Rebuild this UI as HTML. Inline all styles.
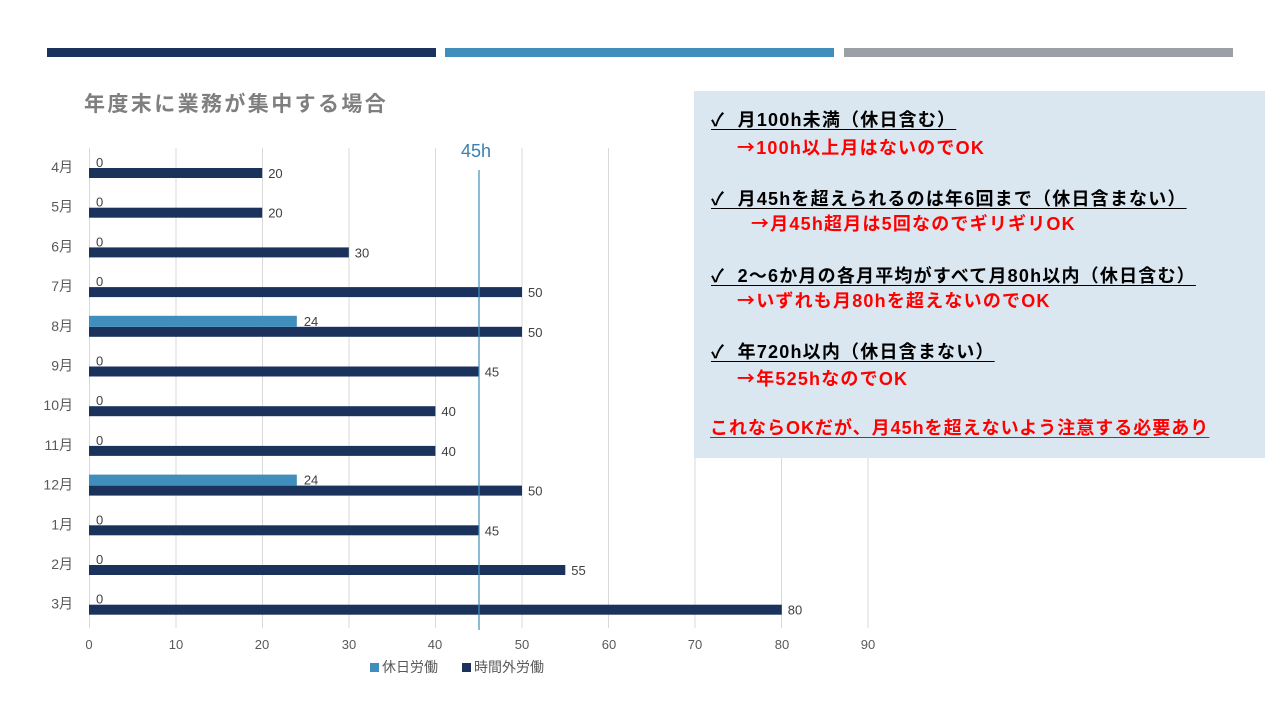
<!DOCTYPE html>
<html><head><meta charset="utf-8"><style>
body{margin:0;width:1280px;height:720px;background:#fff;position:relative;overflow:hidden;font-family:"Liberation Sans","Noto Sans CJK JP",sans-serif}
.a{position:absolute}
.box{left:694px;top:91px;width:571px;height:367px;background:#dae6f0}
.t{position:absolute;font-weight:bold;font-size:18px;white-space:nowrap;line-height:20px;letter-spacing:1.2px}
.k{color:#000;text-decoration:underline;text-underline-offset:3px}
.r{color:#f00}
.ar{font-family:"Noto Sans CJK JP",sans-serif}
</style></head><body>
<div class="a" style="left:47px;top:48px;width:389px;height:9px;background:#1b335c"></div>
<div class="a" style="left:445px;top:48px;width:389px;height:9px;background:#3f8ebc"></div>
<div class="a" style="left:844px;top:48px;width:389px;height:9px;background:#9aa0a6"></div>
<div class="a" style="left:84px;top:88px;font-size:21px;letter-spacing:2.4px;font-weight:bold;color:#7f7f7f">年度末に業務が集中する場合</div>
<svg class="a" style="left:0;top:0" width="1280" height="720" font-family="Liberation Sans, Noto Sans CJK JP, sans-serif">
<g stroke="#d9d9d9" stroke-width="1">
<line x1="89.5" y1="148" x2="89.5" y2="628"/><line x1="176" y1="148" x2="176" y2="628"/><line x1="262.5" y1="148" x2="262.5" y2="628"/><line x1="349" y1="148" x2="349" y2="628"/><line x1="435.5" y1="148" x2="435.5" y2="628"/><line x1="522" y1="148" x2="522" y2="628"/><line x1="608.5" y1="148" x2="608.5" y2="628"/><line x1="695" y1="148" x2="695" y2="628"/><line x1="781.5" y1="148" x2="781.5" y2="628"/><line x1="868" y1="148" x2="868" y2="628"/>
</g>
<g font-size="13" fill="#595959" text-anchor="middle">
<text x="89" y="649">0</text><text x="176" y="649">10</text><text x="262" y="649">20</text><text x="349" y="649">30</text><text x="435" y="649">40</text><text x="522" y="649">50</text><text x="609" y="649">60</text><text x="695" y="649">70</text><text x="782" y="649">80</text><text x="868" y="649">90</text>
</g>
<g id="bars"></g>
<line x1="479" y1="170" x2="479" y2="630" stroke="#3f8ebc" stroke-width="1.2"/>
<text x="476" y="157" font-size="18" fill="#3a80b0" text-anchor="middle">45h</text>
<rect x="370" y="663" width="9" height="9" fill="#3f8ebc"/><text x="382" y="672" font-size="14" fill="#595959">休日労働</text>
<rect x="462" y="663" width="9" height="9" fill="#1b335c"/><text x="474" y="672" font-size="14" fill="#595959">時間外労働</text>
</svg>
<script>
var m=["4月","5月","6月","7月","8月","9月","10月","11月","12月","1月","2月","3月"],v=[20,20,30,50,50,45,40,40,50,45,55,80],h=[0,0,0,0,24,0,0,0,24,0,0,0],s="";
for(var i=0;i<12;i++){var y=168+i*39.7;
s+='<text x="73" y="'+(y+4)+'" font-size="14" fill="#595959" text-anchor="end">'+m[i]+'</text>';
s+='<rect x="89" y="'+y+'" width="'+(v[i]*8.66)+'" height="10" fill="#1b335c"/>';
s+='<text x="'+(89+v[i]*8.66+6)+'" y="'+(y+10)+'" font-size="13" fill="#404040">'+v[i]+'</text>';
if(h[i]){s+='<rect x="89" y="'+(y-11)+'" width="'+(h[i]*8.66)+'" height="11" fill="#3f8ebc"/>';s+='<text x="'+(89+h[i]*8.66+7)+'" y="'+(y-1)+'" font-size="13" fill="#404040">24</text>';}
else s+='<text x="96" y="'+(y-1)+'" font-size="13" fill="#404040">0</text>';}
document.getElementById("bars").innerHTML=s;
</script>
<div class="a box"></div>
<div class="t k" style="left:711px;top:110px">✓&nbsp;&nbsp;月100h未満（休日含む）</div>
<div class="t r" style="left:737px;top:137px"><span class="ar">→</span>100h以上月はないのでOK</div>
<div class="t k" style="left:711px;top:189px">✓&nbsp;&nbsp;月45hを超えられるのは年6回まで（休日含まない）</div>
<div class="t r" style="left:751px;top:213px"><span class="ar">→</span>月45h超月は5回なのでギリギリOK</div>
<div class="t k" style="left:711px;top:266px">✓&nbsp;&nbsp;2～6か月の各月平均がすべて月80h以内（休日含む）</div>
<div class="t r" style="left:737px;top:290px"><span class="ar">→</span>いずれも月80hを超えないのでOK</div>
<div class="t k" style="left:711px;top:342px">✓&nbsp;&nbsp;年720h以内（休日含まない）</div>
<div class="t r" style="left:737px;top:368px"><span class="ar">→</span>年525hなのでOK</div>
<div class="t r" style="left:710px;top:418px;letter-spacing:1px;text-decoration:underline;text-underline-offset:3px">これならOKだが、月45hを超えないよう注意する必要あり</div>
</body></html>
